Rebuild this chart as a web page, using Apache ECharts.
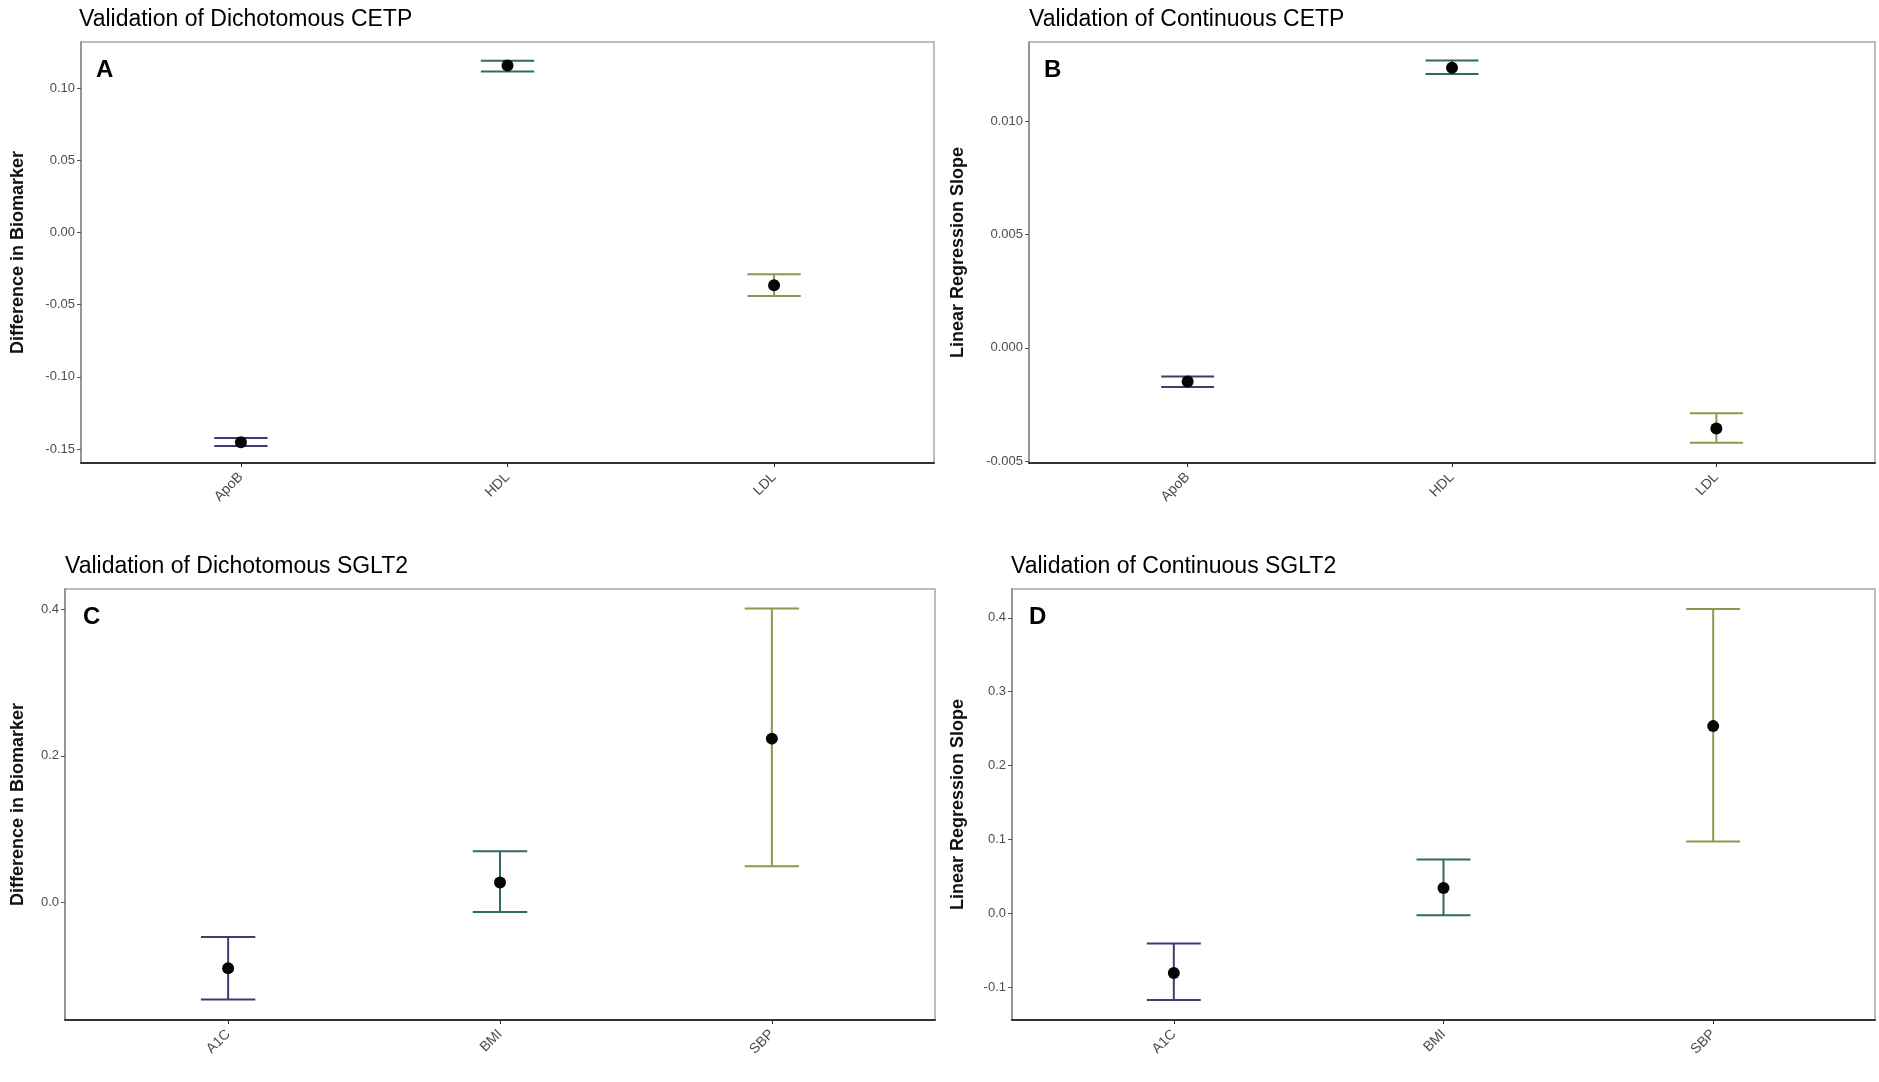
<!DOCTYPE html>
<html>
<head>
<meta charset="utf-8">
<script src="https://cdn.jsdelivr.net/npm/echarts@6/dist/echarts.min.js"></script>
<style>
    html, body { margin: 0; padding: 0; background: #fff; }
    #chart { width: 1879px; height: 1082px; }
</style>
</head>
<body>
<div id="chart"></div>
<script>
// categories
var cetpCats = ['ApoB', 'HDL', 'LDL'];
var sgltCats = ['A1C', 'BMI', 'SBP'];

// A: dichotomous CETP
var dichCetpMean = [-0.1453, 0.1157, -0.0366];
var dichCetpLow = [-0.1479, 0.1116, -0.0440];
var dichCetpHigh = [-0.1424, 0.1190, -0.0290];

// B: continuous CETP
var contCetpMean = [-0.00149, 0.01238, -0.00356];
var contCetpLow = [-0.00173, 0.01210, -0.00420];
var contCetpHigh = [-0.00127, 0.01270, -0.00289];

// C: dichotomous SGLT2
var dichSgltMean = [-0.090, 0.027, 0.2235];
var dichSgltLow = [-0.1326, -0.0131, 0.0493];
var dichSgltHigh = [-0.0473, 0.0697, 0.401];

// D: continuous SGLT2
var contSgltMean = [-0.081, 0.034, 0.2533];
var contSgltLow = [-0.1175, -0.003, 0.097];
var contSgltHigh = [-0.041, 0.0726, 0.412];

// tick labels
var ticksA = [-0.15, -0.10, -0.05, 0.00, 0.05, 0.10];
var ticksB = [-0.005, 0.000, 0.005, 0.010];
var ticksC = [0.0, 0.2, 0.4];
var ticksD = [-0.1, 0.0, 0.1, 0.2, 0.3, 0.4];
var catTicks = [1, 2, 3];

var barColors = ['#3f3c74', '#2f6a66', '#949452'];
var fontFamily = '"Liberation Sans", Arial, sans-serif';

var chart = echarts.init(document.getElementById('chart'), null, {renderer: 'canvas'});

var panels = [
    {title: 'Validation of Dichotomous CETP', letter: 'A', yName: 'Difference in Biomarker',
        cats: cetpCats, mean: dichCetpMean, low: dichCetpLow, high: dichCetpHigh,
        ticks: ticksA, digits: 2, min: -0.1597, max: 0.132,
        grid: {left: 81, top: 42, width: 853, height: 421}, nameGap: 54, titleLeft: 79, titleTop: 8, letterDx: 15},
    {title: 'Validation of Continuous CETP', letter: 'B', yName: 'Linear Regression Slope',
        cats: cetpCats, mean: contCetpMean, low: contCetpLow, high: contCetpHigh,
        ticks: ticksB, digits: 3, min: -0.00509, max: 0.01352,
        grid: {left: 1029, top: 42, width: 846, height: 421}, nameGap: 62, titleLeft: 1029, titleTop: 8, letterDx: 15},
    {title: 'Validation of Dichotomous SGLT2', letter: 'C', yName: 'Difference in Biomarker',
        cats: sgltCats, mean: dichSgltMean, low: dichSgltLow, high: dichSgltHigh,
        ticks: ticksC, digits: 1, min: -0.1605, max: 0.4277,
        grid: {left: 65, top: 589, width: 870, height: 431}, nameGap: 38, titleLeft: 65, titleTop: 555, letterDx: 18},
    {title: 'Validation of Continuous SGLT2', letter: 'D', yName: 'Linear Regression Slope',
        cats: sgltCats, mean: contSgltMean, low: contSgltLow, high: contSgltHigh,
        ticks: ticksD, digits: 1, min: -0.1447, max: 0.439,
        grid: {left: 1012, top: 589, width: 863, height: 431}, nameGap: 45, titleLeft: 1011, titleTop: 555, letterDx: 17}
];

function errorBarRender(params, api) {
    var x = api.value(0);
    var lowPt = api.coord([x, api.value(1)]);
    var highPt = api.coord([x, api.value(2)]);
    var half = api.size([0.1, 0])[0];
    var style = {stroke: barColors[params.dataIndex], lineWidth: 2, fill: null};
    return {
        type: 'group',
        children: [
            {type: 'line', shape: {x1: lowPt[0], y1: lowPt[1], x2: highPt[0], y2: highPt[1]}, style: style},
            {type: 'line', shape: {x1: lowPt[0] - half, y1: lowPt[1], x2: lowPt[0] + half, y2: lowPt[1]}, style: style},
            {type: 'line', shape: {x1: highPt[0] - half, y1: highPt[1], x2: highPt[0] + half, y2: highPt[1]}, style: style}
        ]
    };
}

var option = {
    backgroundColor: '#fff',
    animation: false,
    title: [],
    grid: [],
    xAxis: [],
    yAxis: [],
    series: []
};

panels.forEach(function (p, i) {
    option.title.push({
        text: p.title, left: p.titleLeft, top: p.titleTop, padding: 0,
        textStyle: {fontFamily: fontFamily, fontSize: 23, fontWeight: 'normal', color: '#000'}
    });
    option.title.push({
        text: p.letter, left: p.grid.left + p.letterDx, top: p.grid.top + 16, padding: 0,
        textStyle: {fontFamily: fontFamily, fontSize: 24, fontWeight: 'bold', color: '#000'}
    });
    option.grid.push({
        left: p.grid.left, top: p.grid.top, width: p.grid.width, height: p.grid.height,
        show: true, borderColor: '#a8a8a8', borderWidth: 1.5, containLabel: false
    });
    option.xAxis.push({
        type: 'value', gridIndex: i, min: 0.4, max: 3.6,
        splitLine: {show: false},
        axisLine: {show: true, onZero: false, lineStyle: {color: '#333', width: 2}},
        axisTick: {show: true, length: 4, customValues: catTicks, lineStyle: {color: '#333'}},
        axisLabel: {
            customValues: catTicks, rotate: 45, margin: 12,
            fontFamily: fontFamily, fontSize: 14, color: '#4d4d4d',
            formatter: (function (cats) {
                return function (v) { return cats[Math.round(v) - 1]; };
            })(p.cats)
        }
    });
    option.yAxis.push({
        type: 'value', gridIndex: i, min: p.min, max: p.max,
        name: p.yName, nameLocation: 'middle', nameRotate: 90, nameGap: p.nameGap,
        nameTextStyle: {fontFamily: fontFamily, fontSize: 18, fontWeight: 'bold', color: '#111'},
        splitLine: {show: false},
        axisLine: {show: true, onZero: false, lineStyle: {color: '#888', width: 1.5}},
        axisTick: {show: true, length: 4, customValues: p.ticks, lineStyle: {color: '#555'}},
        axisLabel: {
            customValues: p.ticks, margin: 6,
            fontFamily: fontFamily, fontSize: 13, color: '#4d4d4d',
            formatter: (function (d) {
                return function (v) { return v.toFixed(d); };
            })(p.digits)
        }
    });
    var barData = p.cats.map(function (c, k) { return [k + 1, p.low[k], p.high[k]]; });
    var pointData = p.cats.map(function (c, k) { return [k + 1, p.mean[k]]; });
    option.series.push({
        type: 'custom', xAxisIndex: i, yAxisIndex: i,
        renderItem: errorBarRender, data: barData,
        encode: {x: 0, y: [1, 2]}, silent: true, z: 2
    });
    option.series.push({
        type: 'scatter', xAxisIndex: i, yAxisIndex: i,
        data: pointData, symbolSize: 12,
        itemStyle: {color: '#050505', opacity: 1}, silent: true, z: 3
    });
});

chart.setOption(option);
</script>
</body>
</html>
